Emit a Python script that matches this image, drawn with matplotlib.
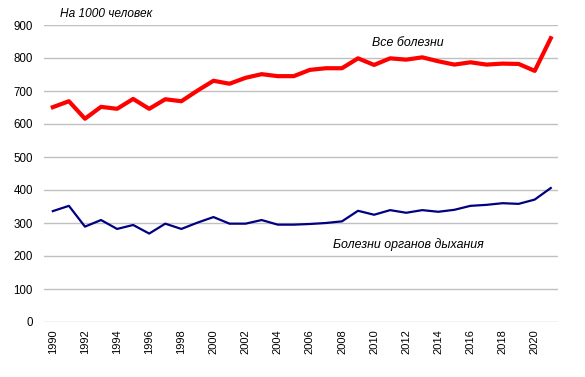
import numpy as np
import matplotlib
matplotlib.use("Agg")
from matplotlib import pyplot as plt

years = list(range(1990, 2022))
all_diseases = [651, 669, 616, 652, 646, 676, 646, 675, 669, 701, 731, 722, 740, 751, 745, 745,
                764, 769, 769, 799, 779, 799, 795, 802, 790, 780, 787, 780, 783, 782, 761, 860]
respiratory = [336, 352, 289, 309, 282, 294, 268, 298, 282, 301, 318, 298, 298, 309, 295, 295,
               297, 300, 305, 337, 325, 339, 331, 339, 334, 340, 352, 355, 360, 358, 371, 406]
tick_years = list(range(1990, 2021, 2))
yticks = list(range(0, 1000, 100))

plt.rcParams['font.family'] = ['Liberation Sans', 'DejaVu Sans']

fig = plt.figure(figsize=(5.85, 3.77), dpi=100)
ax = fig.add_axes([44/585, 1-322/377, (558-44)/585, (322-25)/377])

ax.plot(years, all_diseases, color='#ff0000', lw=3.0, solid_joinstyle='round')
ax.plot(years, respiratory, color='#000080', lw=1.6)

ax.set_xlim(1989.45, 2021.45)
ax.set_ylim(0, 900)
ax.set_yticks(yticks)
ax.set_xticks(tick_years)
ax.set_xticklabels([str(y) for y in tick_years], rotation=90, fontsize=8)
ax.tick_params(axis='y', labelsize=8.3, length=0, pad=8)
ax.tick_params(axis='x', length=0, pad=5)
ax.grid(axis='y', color='#c0c0c0', lw=1)
ax.set_axisbelow(True)
for s in ax.spines.values():
    s.set_visible(False)

fig.text(60/585, 1-14/377, 'На 1000 человек', fontsize=8.6, style='italic', va='center')
ax.text(2009.9, 845, 'Все болезни', fontsize=8.9, style='italic', va='center')
ax.text(2007.45, 236, 'Болезни органов дыхания', fontsize=8.9, style='italic', va='center')

fig.savefig('out.png', dpi=100)
